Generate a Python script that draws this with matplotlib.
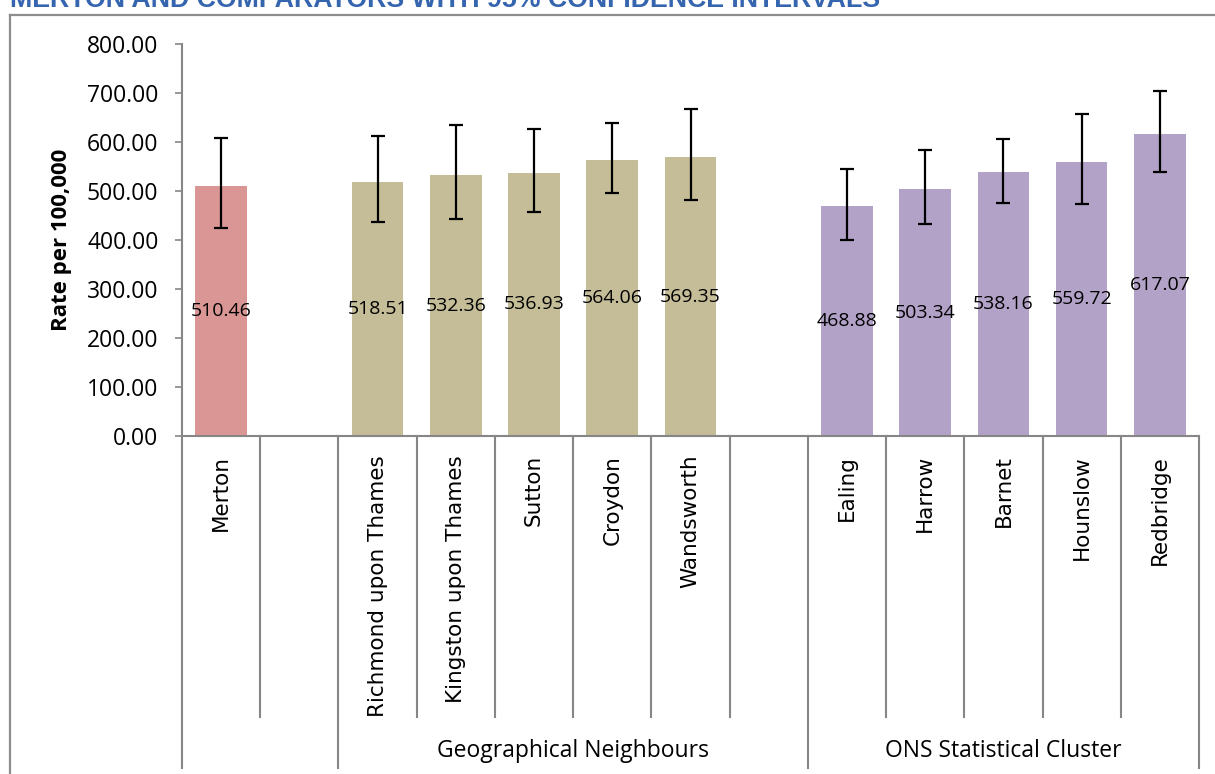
import numpy as np
import matplotlib
matplotlib.use("Agg")
import matplotlib.pyplot as plt
import matplotlib.transforms as mtransforms
from matplotlib.lines import Line2D

# ---- data ----
categories = ["Merton", "",
              "Richmond upon Thames", "Kingston upon Thames", "Sutton",
              "Croydon", "Wandsworth", "",
              "Ealing", "Harrow", "Barnet", "Hounslow", "Redbridge"]
rates = [510.46, np.nan,
         518.51, 532.36, 536.93, 564.06, 569.35, np.nan,
         468.88, 503.34, 538.16, 559.72, 617.07]
lower_ci = [424.0, np.nan,
            436.0, 442.0, 456.5, 496.6, 481.6, np.nan,
            401.0, 432.0, 476.0, 472.8, 538.0]
upper_ci = [609.0, np.nan,
            611.6, 635.4, 627.2, 638.0, 667.0, np.nan,
            544.0, 583.7, 606.0, 657.8, 704.8]
group_names = ["", "Geographical Neighbours", "ONS Statistical Cluster"]
group_sizes = [2, 6, 5]
group_colors = ["#D99694", "#C4BD97", "#B3A2C7"]
title = "MERTON AND COMPARATORS WITH 95% CONFIDENCE INTERVALS"

rates = np.array(rates)
lower_ci = np.array(lower_ci)
upper_ci = np.array(upper_ci)
x = np.arange(len(categories))
bar_colors = [c for c, n in zip(group_colors, group_sizes) for _ in range(n)]

W, H = 1215, 774
fig = plt.figure(figsize=(W / 100, H / 100), dpi=100)
ax = fig.add_axes([182 / W, 1 - 436 / H, 1017 / W, 392 / H])

grey = "#868686"
body_font = "Open Sans"

ax.bar(x, rates, width=0.66, color=bar_colors, zorder=2)
ax.errorbar(x, rates, yerr=[rates - lower_ci, upper_ci - rates],
            fmt="none", ecolor="black", elinewidth=1.6, capsize=5,
            capthick=1.6, zorder=3)

for xi, v in zip(x, rates):
    if np.isnan(v):
        continue
    ax.text(xi, v / 2, f"{v:.2f}", ha="center", va="center",
            fontsize=14, family=body_font, zorder=4)

ax.set_xlim(-0.5, len(categories) - 0.5)
ax.set_ylim(0, 800)
ax.set_yticks(np.arange(0, 801, 100))
ax.set_yticklabels([f"{t:.2f}" for t in np.arange(0, 801, 100)],
                   family=body_font, fontsize=16.5)
ax.tick_params(axis="y", length=5, width=1.2, color=grey, pad=12)
ax.set_xticks([])

for side in ["top", "right"]:
    ax.spines[side].set_visible(False)
for side in ["left", "bottom"]:
    ax.spines[side].set_color(grey)
    ax.spines[side].set_linewidth(1.5)

ax.set_ylabel("Rate per 100,000", fontsize=16, fontweight="bold",
              family=body_font)
ax.yaxis.set_label_coords(-0.108, 0.5)

# multi-level category axis
trans = mtransforms.blended_transform_factory(ax.transData, ax.transAxes)
bounds = np.cumsum([0] + group_sizes)
for k in range(len(categories) + 1):
    y_end = -0.847 if k in bounds else -0.717
    ax.add_line(Line2D([k - 0.5, k - 0.5], [0, y_end], transform=trans,
                       color=grey, lw=1.5, clip_on=False))

for xi, name in zip(x, categories):
    if name:
        ax.text(xi, -0.048, name, rotation=90, ha="center", va="top",
                fontsize=15.5, transform=trans, family="DejaVu Sans")

for g, name in enumerate(group_names):
    if name:
        mid = (bounds[g] + bounds[g + 1] - 1) / 2
        ax.text(mid, -0.804, name, ha="center", va="center",
                fontsize=16.5, transform=trans, family=body_font)

# chart frame (top and left edges visible)
fig.add_artist(Line2D([10 / W, 1], [1 - 15 / H, 1 - 15 / H],
                      color="#8C8C8C", lw=1.6))
fig.add_artist(Line2D([10 / W, 10 / W], [0, 1 - 15 / H],
                      color="#8C8C8C", lw=1.6))

# title, clipped at the top of the picture as in the source
fig.text(10 / W, 1 - 7 / H, title, ha="left", va="baseline",
         fontsize=19.3, fontweight="bold", color="#3565AF",
         family="Liberation Sans")

fig.savefig("out.png", dpi=100)
